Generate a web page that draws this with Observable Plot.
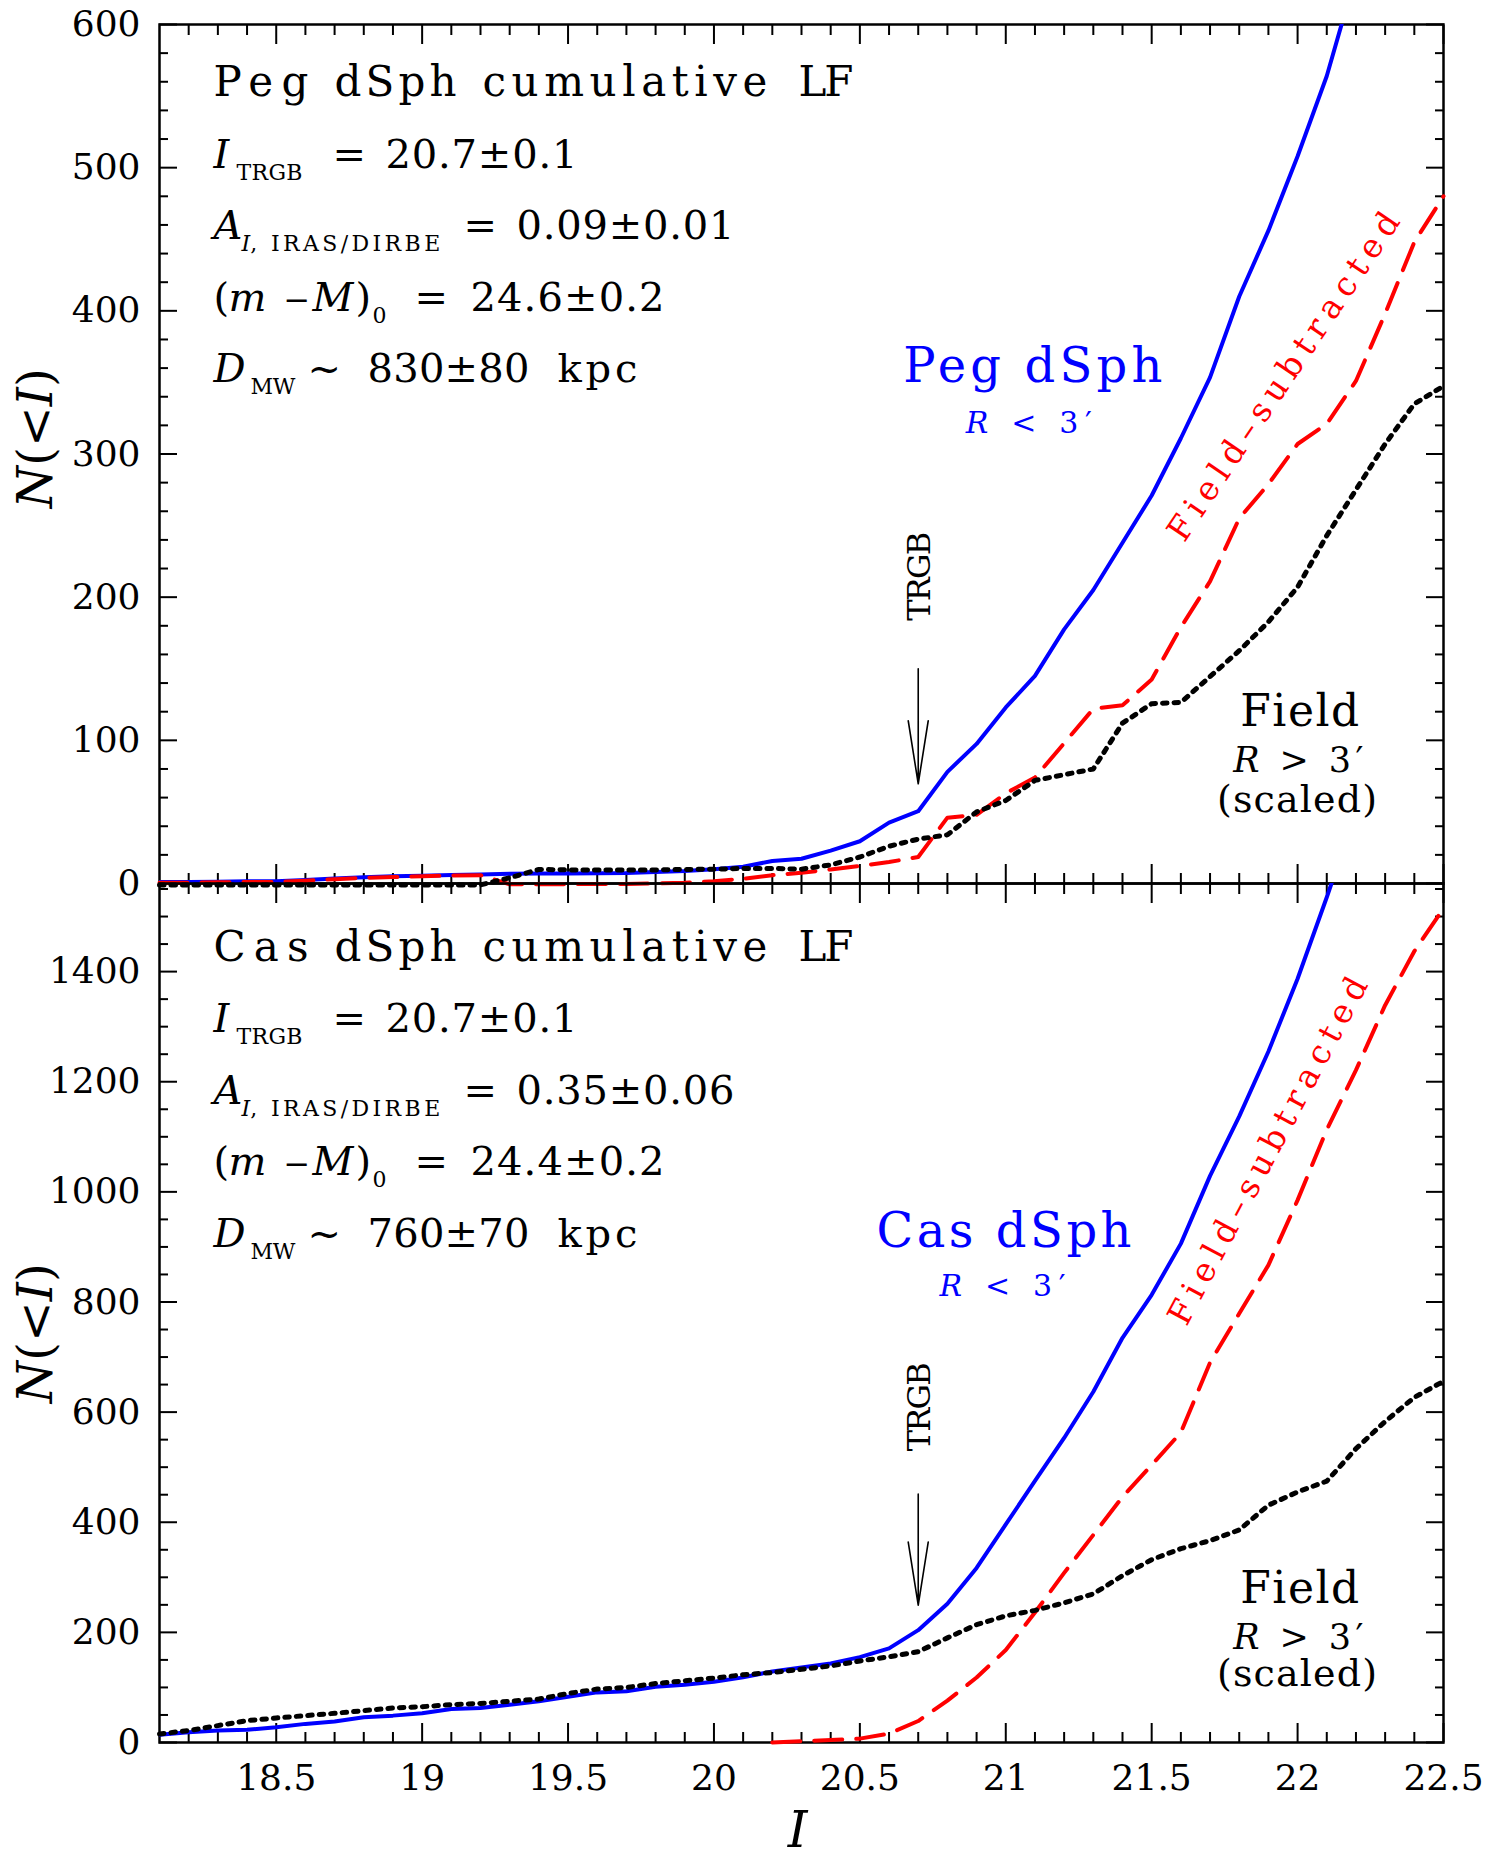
<!DOCTYPE html>
<html>
<head>
<meta charset="utf-8">
<script src="https://cdn.jsdelivr.net/npm/d3@7"></script>
<script src="https://cdn.jsdelivr.net/npm/@observablehq/plot@0.6"></script>
<style>
html, body { margin: 0; padding: 0; background: #fff; }
#chart { position: relative; width: 1507px; height: 1858px; background: #fff; overflow: hidden; }
#chart svg { position: absolute; left: 0; }
</style>
</head>
<body>
<div id="chart"></div>
<script>
// ---------------- data ----------------
const magnitude = [18.1,18.2,18.3,18.4,18.5,18.6,18.7,18.8,18.9,19.0,19.1,19.2,19.3,19.4,19.5,19.6,19.7,19.8,19.9,20.0,20.1,20.2,20.3,20.4,20.5,20.6,20.7,20.8,20.9,21.0,21.1,21.2,21.3,21.4,21.5,21.6,21.7,21.8,21.9,22.0,22.1,22.2,22.3,22.4,22.5];

// Peg dSph (top panel)
const pegTotal = [1,1,1.3,1.5,1.6,2.5,3.5,4.3,5,5.5,6,6.3,6.8,7,7,7.2,7.3,8,8.7,10,11.7,15.7,17.3,23,29.5,42.5,50.5,78,97.5,123,145,177.5,205,238,271,311,353.5,410,456,508,564,635,null,null,null];
const pegSubtracted = [0.5,0.5,0.8,1,1,2,3,4,4.5,5,5.6,5.8,-0.5,-0.5,-0.5,-0.3,-0.3,0,0.5,1.6,3.3,5.8,7.5,9.8,12.2,15,18.5,46,48,63,74,98,122,124.5,142.5,179,211,255,279,307,321,351,398,448,480];
const pegField = [-1,-1,-1,-1,-1,-1,-1,-1,-1,-1,-1,-1,4,9.8,9.5,9.5,9.5,9.5,9.8,10,10.5,10.5,10,13,18.5,26,31,34,50,58,72,76,80,112,125.6,126.5,144.5,162.6,182.7,207,243,275,307,335,347.5];

// Cas dSph (bottom panel)
const casTotal = [14,18.7,21.7,23,27.7,33.8,38,45.8,48.8,53,61,62.7,68.7,74.8,83,91,93,101.4,105,110.4,118.3,129,136.4,143.6,155,171,204,252,317,396,475,553,637,735,813,906,1029,1137,1255,1387,1535,1690,null,null,null];
const casSubtracted = [null,null,null,null,null,null,null,null,null,null,null,null,null,null,null,null,null,null,null,null,null,0,2.5,4.5,7,16,39,76,118,168,236,308,377,446,504,563,690,779,867,985,1113,1221,1339,1437,1515];
const casField = [15.5,21.7,30.7,39.7,44.5,48.8,53,57.9,62.7,65,68.7,71,74.8,79,89,97,100,107,112,117,123,127,133,139,148,155.6,165,190,214,230,240,253.6,270,303,332,352,366.6,386,431,455,474.6,533.6,583,626.7,656];

// ticks
const xMajor = [18.5,19,19.5,20,20.5,21,21.5,22,22.5];
const xMinor = [18.2,18.3,18.4,18.6,18.7,18.8,18.9,19.1,19.2,19.3,19.4,19.6,19.7,19.8,19.9,20.1,20.2,20.3,20.4,20.6,20.7,20.8,20.9,21.1,21.2,21.3,21.4,21.6,21.7,21.8,21.9,22.1,22.2,22.3,22.4];
const yMajorTop = [0,100,200,300,400,500,600];
const yMinorTop = [20,40,60,80,120,140,160,180,220,240,260,280,320,340,360,380,420,440,460,480,520,540,560,580];
const yMajorBottom = [0,200,400,600,800,1000,1200,1400];
const yMinorBottom = [50,100,150,250,300,350,450,500,550,650,700,750,850,900,950,1050,1100,1150,1250,1300,1350,1450,1500,1550];

// annotation text
const pegNotes = ["Peg dSph cumulative LF","I_TRGB = 20.7±0.1","A_I, IRAS/DIRBE = 0.09±0.01","(m −M)_0 = 24.6±0.2","D_MW ~ 830±80 kpc"];
const casNotes = ["Cas dSph cumulative LF","I_TRGB = 20.7±0.1","A_I, IRAS/DIRBE = 0.35±0.06","(m −M)_0 = 24.4±0.2","D_MW ~ 760±70 kpc"];
const yLabel = "N(<I)";
const xLabel = "I";

(function () {
const FONT = "DejaVu Serif";
const BLUE = "#0000ff", RED = "#ff0000", BLACK = "#000000";
const rows = (ys) => magnitude.map((m, i) => ({I: m, N: ys[i]}));
const fmt = (d) => `${d}`;

const tickOpts = {fill: "none", label: null, strokeWidth: 2};
function frameTicks(yMajor, yMinor) {
  return [
    Plot.axisX({ticks: xMajor, anchor: "bottom", tickSize: -19, ...tickOpts}),
    Plot.axisX({ticks: xMinor, anchor: "bottom", tickSize: -10, ...tickOpts}),
    Plot.axisX({ticks: xMajor, anchor: "top", tickSize: -19, ...tickOpts}),
    Plot.axisX({ticks: xMinor, anchor: "top", tickSize: -10, ...tickOpts}),
    Plot.axisY({ticks: yMajor, anchor: "left", tickSize: -18, ...tickOpts}),
    Plot.axisY({ticks: yMinor, anchor: "left", tickSize: -9, ...tickOpts}),
    Plot.axisY({ticks: yMajor, anchor: "right", tickSize: -18, ...tickOpts}),
    Plot.axisY({ticks: yMinor, anchor: "right", tickSize: -9, ...tickOpts}),
    Plot.axisY({ticks: yMajor, anchor: "left", tickSize: 0, tickPadding: 19, fontSize: 36, label: null, fill: BLACK, tickFormat: fmt}),
    Plot.frame({stroke: BLACK, strokeWidth: 2.5})
  ];
}
function curves(total, sub, field) {
  return [
    Plot.line(rows(total), {x: "I", y: "N", stroke: BLUE, strokeWidth: 4, clip: true}),
    Plot.line(rows(sub), {x: "I", y: "N", stroke: RED, strokeWidth: 4, strokeDasharray: "28,14"}),
    Plot.line(rows(field), {x: "I", y: "N", stroke: BLACK, strokeWidth: 5, strokeDasharray: "4.5,7"})
  ];
}
const arrowShape = {
  draw(ctx, l) {
    ctx.moveTo(0, 0); ctx.lineTo(0, -l);
    ctx.moveTo(-10, -l + 63); ctx.lineTo(0, -l); ctx.lineTo(10, -l + 63);
  }
};
const textStyle = {fill: BLACK, stroke: null};
function notes(list, yStart, yStep) {
  return [
    Plot.text([list[0]], {text: d => d, x: 18.285, y: yStart, textAnchor: "start", lineAnchor: "bottom", fontSize: 42, ...textStyle}),
    Plot.text(list.slice(1), {text: d => d, x: 18.285, y: (d, i) => yStart - yStep * (i + 1), textAnchor: "start", lineAnchor: "bottom", fontSize: 40, ...textStyle})
  ];
}

// ---------------- top panel ----------------
const topPlot = Plot.plot({
  width: 1507, height: 884,
  marginTop: 24, marginBottom: 1, marginLeft: 159, marginRight: 64,
  style: {fontFamily: FONT, fontSize: "36px", background: "transparent", overflow: "visible", color: BLACK},
  x: {domain: [18.1, 22.5]},
  y: {domain: [0, 600]},
  marks: [
    ...frameTicks(yMajorTop, yMinorTop),
    ...curves(pegTotal, pegSubtracted, pegField),
    ...notes(pegNotes, 550, 50),
    Plot.text(["Peg dSph"], {text: d => d, x: 21.1, y: 350, lineAnchor: "bottom", fontSize: 48, fill: BLUE}),
    Plot.text(["R < 3′"], {text: d => d, x: 21.09, y: 315, lineAnchor: "bottom", fontSize: 30, fill: BLUE}),
    Plot.text(["Field–subtracted"], {text: d => d, x: 21.96, y: 356, rotate: -56, fontSize: 33, fill: RED}),
    Plot.text(["TRGB"], {text: d => d, x: 20.7, y: 214, dx: 2, rotate: -90, fontSize: 32, ...textStyle}),
    Plot.vector([0], {x: 20.7, y: 150, length: 115, rotate: 180, anchor: "start", shape: arrowShape, stroke: BLACK, strokeWidth: 1.6}),
    Plot.text(["Field"], {text: d => d, x: 22.01, y: 110, lineAnchor: "bottom", fontSize: 44, ...textStyle}),
    Plot.text(["R > 3′"], {text: d => d, x: 22.01, y: 78, lineAnchor: "bottom", fontSize: 35, ...textStyle}),
    Plot.text(["(scaled)"], {text: d => d, x: 22.0, y: 50, lineAnchor: "bottom", fontSize: 38, ...textStyle}),
    Plot.text([yLabel], {text: d => d, frameAnchor: "left", textAnchor: "middle", dx: -123, dy: -16, rotate: -90, fontSize: 48, ...textStyle})
  ]
});

// ---------------- bottom panel ----------------
const bottomPlot = Plot.plot({
  width: 1507, height: 995,
  marginTop: 20, marginBottom: 116, marginLeft: 159, marginRight: 64,
  style: {fontFamily: FONT, fontSize: "36px", background: "transparent", overflow: "visible", color: BLACK},
  x: {domain: [18.1, 22.5]},
  y: {domain: [0, 1560]},
  marks: [
    ...frameTicks(yMajorBottom, yMinorBottom),
    Plot.axisX({ticks: xMajor, anchor: "bottom", tickSize: 0, tickPadding: 22, fontSize: 36, label: null, fill: BLACK, tickFormat: fmt}),
    ...curves(casTotal, casSubtracted, casField),
    ...notes(casNotes, 1420, 130),
    Plot.text(["Cas dSph"], {text: d => d, x: 21.0, y: 900, lineAnchor: "bottom", fontSize: 48, fill: BLUE}),
    Plot.text(["R < 3′"], {text: d => d, x: 21.0, y: 810, lineAnchor: "bottom", fontSize: 30, fill: BLUE}),
    Plot.text(["Field–subtracted"], {text: d => d, x: 21.905, y: 1080, rotate: -62, fontSize: 33, fill: RED}),
    Plot.text(["TRGB"], {text: d => d, x: 20.7, y: 608, dx: 2, rotate: -90, fontSize: 32, ...textStyle}),
    Plot.vector([0], {x: 20.7, y: 451, length: 111, rotate: 180, anchor: "start", shape: arrowShape, stroke: BLACK, strokeWidth: 1.6}),
    Plot.text(["Field"], {text: d => d, x: 22.01, y: 253, lineAnchor: "bottom", fontSize: 44, ...textStyle}),
    Plot.text(["R > 3′"], {text: d => d, x: 22.01, y: 170.7, lineAnchor: "bottom", fontSize: 35, ...textStyle}),
    Plot.text(["(scaled)"], {text: d => d, x: 22.0, y: 101.7, lineAnchor: "bottom", fontSize: 38, ...textStyle}),
    Plot.text([yLabel], {text: d => d, frameAnchor: "left", textAnchor: "middle", dx: -123, dy: 20, rotate: -90, fontSize: 48, ...textStyle}),
    Plot.text([xLabel], {text: d => d, frameAnchor: "bottom", textAnchor: "middle", dx: -4, dy: 104, lineAnchor: "bottom", fontSize: 50, fontStyle: "italic", ...textStyle})
  ]
});

topPlot.style.top = "0px";
bottomPlot.style.top = "863px";
const chart = document.getElementById("chart");
chart.appendChild(topPlot);
chart.appendChild(bottomPlot);

// ---------------- rich text (italics, subscripts, fitted widths) ----------------
const NS = "http://www.w3.org/2000/svg";
const SUB = 12, SUBSIZE = 22;
function fit(el, w) {
  const n = el.textContent.length;
  if (!w || n < 2) return;
  el.style.letterSpacing = "0px";
  const nat = el.getComputedTextLength();
  el.style.letterSpacing = ((w - nat) / (n - 1)) + "px";
}
const eqA = (v) => ({segs: [{t:"A",x:0,i:1},{t:"I",x:28,sub:1,i:1},{t:", IRAS/DIRBE",sub:1,w:190},{t:"=",x:250},{t:v,x:303,w:218}]});
const eqM = (v) => ({segs: [{t:"(",x:0},{t:"m",x:15,i:1},{t:"−",x:70,size:32},{t:"M",x:99,i:1},{t:")",x:142},{t:"0",x:159,sub:1},{t:"=",x:201},{t:v,x:257,w:194}]});
const eqD = (v) => ({segs: [{t:"D",x:0,i:1},{t:"MW",x:37,sub:1,w:45},{t:"~",x:94},{t:v,x:154,w:162},{t:"kpc",x:344,w:80}]});
const title = (w1) => ({segs: [{t:w1,x:0,w:95},{t:"dSph",x:121,w:122},{t:"cumulative",x:269,w:285},{t:"LF",x:585,w:55}]});
const RICH = {
  "Peg dSph cumulative LF": title("Peg"),
  "Cas dSph cumulative LF": title("Cas"),
  "I_TRGB = 20.7±0.1": {segs: [{t:"I",x:0,i:1},{t:"TRGB",x:23,sub:1,w:66},{t:"=",x:119},{t:"20.7±0.1",x:172,w:192}]},
  "A_I, IRAS/DIRBE = 0.09±0.01": eqA("0.09±0.01"),
  "A_I, IRAS/DIRBE = 0.35±0.06": eqA("0.35±0.06"),
  "(m −M)_0 = 24.6±0.2": eqM("24.6±0.2"),
  "(m −M)_0 = 24.4±0.2": eqM("24.4±0.2"),
  "D_MW ~ 830±80 kpc": eqD("830±80"),
  "D_MW ~ 760±70 kpc": eqD("760±70"),
  "R < 3′": {segs: [{t:"R",i:1},{t:" < 3′"}]},
  "R > 3′": {segs: [{t:"R",i:1},{t:" > 3′"}]},
  "N(<I)": {segs: [{t:"N",i:1},{t:"(<"},{t:"I",i:1},{t:")"}]}
};
// overall widths (px) for whole labels
const WIDTH = {"Peg dSph": 259, "Cas dSph": 255, "Field": 119, "(scaled)": 160, "TRGB": 89, "R > 3′": 130, "N(<I)": 140};
function richify(svg) {
  svg.querySelectorAll("text").forEach(t => {
    const key = t.textContent;
    const spec = RICH[key];
    if (spec) {
      t.textContent = "";
      let cur = 0;
      const fits = [];
      for (const s of spec.segs) {
        const ts = document.createElementNS(NS, "tspan");
        ts.textContent = s.t;
        if (s.x != null) ts.setAttribute("x", s.x);
        const want = s.sub ? SUB : 0;
        if (want !== cur) { ts.setAttribute("dy", want - cur); cur = want; }
        if (s.i) ts.setAttribute("font-style", "italic");
        if (s.sub) ts.setAttribute("font-size", SUBSIZE);
        if (s.size) ts.setAttribute("font-size", s.size);
        t.appendChild(ts);
        if (s.w) fits.push([ts, s.w]);
      }
      fits.forEach(([ts, w]) => fit(ts, w));
    }
    if (WIDTH[key] != null) fit(t, WIDTH[key]);
  });
  svg.querySelectorAll("text").forEach(t => {
    if (t.textContent === "R < 3′") fit(t, 126);
    if (t.textContent === "Field–subtracted") fit(t, 388);
  });
}
richify(topPlot);
richify(bottomPlot);
})();
</script>
</body>
</html>
